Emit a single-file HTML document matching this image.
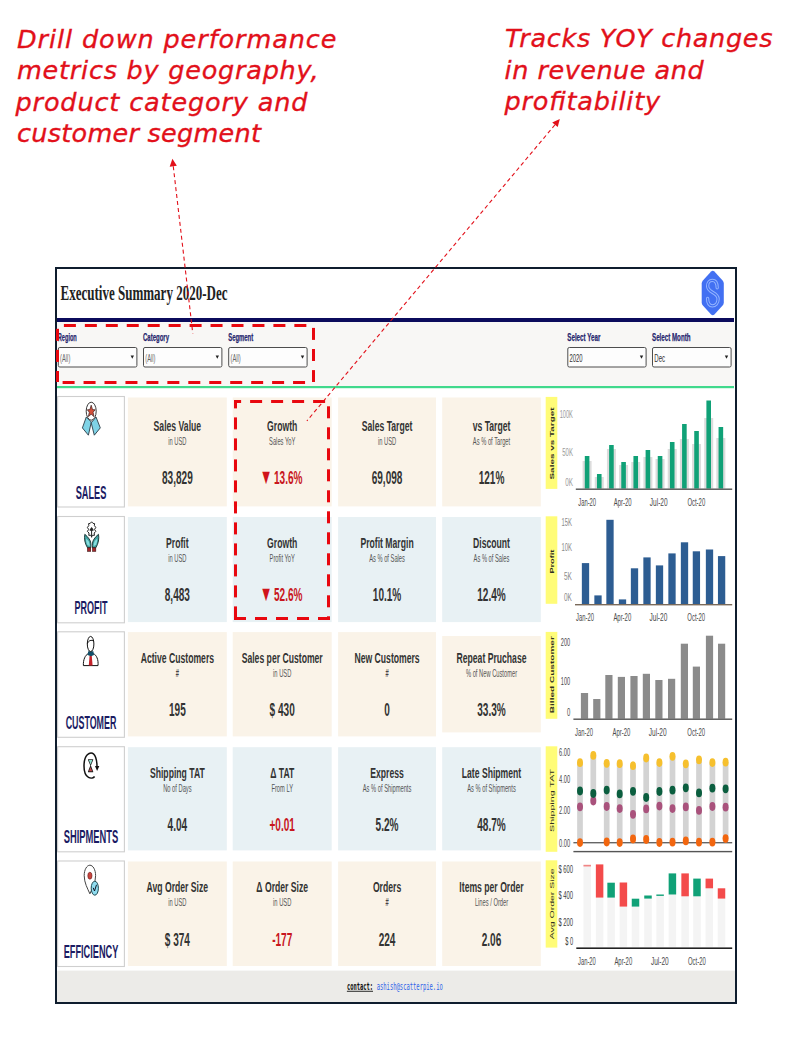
<!DOCTYPE html>
<html lang="en"><head><meta charset="utf-8"><title>Executive Summary 2020-Dec</title>
<style>html,body{margin:0;padding:0;background:#fff;width:794px;height:1055px;overflow:hidden}svg{display:block}</style>
</head><body>
<svg width="794" height="1055" viewBox="0 0 794 1055">
<rect x="0.00" y="0.00" width="794.00" height="1055.00" fill="#ffffff" />
<text x="17.00" y="47.50" text-anchor="start" textLength="319.50" lengthAdjust="spacing" font-family="'DejaVu Sans', 'Liberation Sans', sans-serif" font-size="25.5" font-weight="normal" fill="#e2101a" font-style="oblique" stroke="#e2101a" stroke-width="0.35">Drill down performance</text>
<text x="17.00" y="79.00" text-anchor="start" textLength="301.50" lengthAdjust="spacing" font-family="'DejaVu Sans', 'Liberation Sans', sans-serif" font-size="25.5" font-weight="normal" fill="#e2101a" font-style="oblique" stroke="#e2101a" stroke-width="0.35">metrics by geography,</text>
<text x="15.50" y="110.70" text-anchor="start" textLength="292.00" lengthAdjust="spacing" font-family="'DejaVu Sans', 'Liberation Sans', sans-serif" font-size="25.5" font-weight="normal" fill="#e2101a" font-style="oblique" stroke="#e2101a" stroke-width="0.35">product category and</text>
<text x="17.00" y="142.30" text-anchor="start" textLength="244.00" lengthAdjust="spacing" font-family="'DejaVu Sans', 'Liberation Sans', sans-serif" font-size="25.5" font-weight="normal" fill="#e2101a" font-style="oblique" stroke="#e2101a" stroke-width="0.35">customer segment</text>
<text x="505.00" y="47.30" text-anchor="start" textLength="267.50" lengthAdjust="spacing" font-family="'DejaVu Sans', 'Liberation Sans', sans-serif" font-size="25.5" font-weight="normal" fill="#e2101a" font-style="oblique" stroke="#e2101a" stroke-width="0.35">Tracks YOY changes</text>
<text x="504.60" y="78.80" text-anchor="start" textLength="199.00" lengthAdjust="spacing" font-family="'DejaVu Sans', 'Liberation Sans', sans-serif" font-size="25.5" font-weight="normal" fill="#e2101a" font-style="oblique" stroke="#e2101a" stroke-width="0.35">in revenue and</text>
<text x="504.60" y="110.30" text-anchor="start" textLength="155.50" lengthAdjust="spacing" font-family="'DejaVu Sans', 'Liberation Sans', sans-serif" font-size="25.5" font-weight="normal" fill="#e2101a" font-style="oblique" stroke="#e2101a" stroke-width="0.35">profitability</text>
<rect x="57.00" y="269.00" width="678.00" height="733.00" fill="#ffffff" />
<text transform="translate(60.50,300.20) scale(0.592,1)" text-anchor="start" font-family="'Liberation Serif', 'Times New Roman', serif" font-size="22" font-weight="bold" fill="#222" >Executive Summary 2020-Dec</text>
<path d="M712.75,270.8 Q713.6,270.8 714.4,271.6 L722.6,280.4 Q723.8,281.8 723.8,283.6 L723.8,302.4 Q723.8,304.2 722.6,305.6 L714.4,314.4 Q713.6,315.2 712.75,315.2 Q711.9,315.2 711.1,314.4 L702.9,305.6 Q701.7,304.2 701.7,302.4 L701.7,283.6 Q701.7,281.8 702.9,280.4 L711.1,271.6 Q711.9,270.8 712.75,270.8 Z" fill="#4270f2"/>
<path d="M717.2,287.8 C717.2,282.5 714.8,280.3 712.3,280.3 C709.5,280.3 707.6,282.8 707.6,286.0 C707.6,289.5 710.5,291.2 712.8,292.5 C715.5,294.0 718.1,295.5 718.1,299.0 C718.1,303.5 715.2,305.8 712.4,305.8 C709.3,305.8 707.6,303.5 707.6,298.5" fill="none" stroke="#93b4ff" stroke-width="3.3" stroke-linecap="round"/>
<path d="M717.2,287.8 C717.2,282.5 714.8,280.3 712.3,280.3 C709.5,280.3 707.6,282.8 707.6,286.0 C707.6,289.5 710.5,291.2 712.8,292.5 C715.5,294.0 718.1,295.5 718.1,299.0 C718.1,303.5 715.2,305.8 712.4,305.8 C709.3,305.8 707.6,303.5 707.6,298.5" fill="none" stroke="#4270f2" stroke-width="1.3" stroke-linecap="round"/>
<rect x="57.00" y="318.00" width="677.00" height="4.00" fill="#0b0b5c" />
<rect x="57.00" y="322.00" width="678.00" height="64.00" fill="#f8f7f5" />
<rect x="57.00" y="386.00" width="677.00" height="2.20" fill="#41d98c" />
<text x="57.80" y="340.90" text-anchor="start" textLength="19.00" lengthAdjust="spacingAndGlyphs" font-family="'Liberation Sans', Arial, sans-serif" font-size="10.8" font-weight="bold" fill="#26266e" stroke="#26266e" stroke-width="0.25">Region</text>
<rect x="58.30" y="347.5" width="78.60" height="19.5" rx="1.5" fill="#fdfdfd" stroke="#4d4d4d" stroke-width="1"/>
<text x="60.10" y="361.60" text-anchor="start" textLength="10.20" lengthAdjust="spacingAndGlyphs" font-family="'Liberation Sans', Arial, sans-serif" font-size="10" font-weight="normal" fill="#666" >(All)</text>
<path d="M130.60,355.6 L134.00,355.6 L132.30,358.8 Z" fill="#222"/>
<text x="143.00" y="340.90" text-anchor="start" textLength="26.00" lengthAdjust="spacingAndGlyphs" font-family="'Liberation Sans', Arial, sans-serif" font-size="10.8" font-weight="bold" fill="#26266e" stroke="#26266e" stroke-width="0.25">Category</text>
<rect x="143.50" y="347.5" width="78.40" height="19.5" rx="1.5" fill="#fdfdfd" stroke="#4d4d4d" stroke-width="1"/>
<text x="145.30" y="361.60" text-anchor="start" textLength="10.20" lengthAdjust="spacingAndGlyphs" font-family="'Liberation Sans', Arial, sans-serif" font-size="10" font-weight="normal" fill="#666" >(All)</text>
<path d="M215.60,355.6 L219.00,355.6 L217.30,358.8 Z" fill="#222"/>
<text x="228.20" y="340.90" text-anchor="start" textLength="25.00" lengthAdjust="spacingAndGlyphs" font-family="'Liberation Sans', Arial, sans-serif" font-size="10.8" font-weight="bold" fill="#26266e" stroke="#26266e" stroke-width="0.25">Segment</text>
<rect x="228.70" y="347.5" width="78.40" height="19.5" rx="1.5" fill="#fdfdfd" stroke="#4d4d4d" stroke-width="1"/>
<text x="230.50" y="361.60" text-anchor="start" textLength="10.20" lengthAdjust="spacingAndGlyphs" font-family="'Liberation Sans', Arial, sans-serif" font-size="10" font-weight="normal" fill="#666" >(All)</text>
<path d="M300.80,355.6 L304.20,355.6 L302.50,358.8 Z" fill="#222"/>
<text x="567.30" y="340.90" text-anchor="start" textLength="33.00" lengthAdjust="spacingAndGlyphs" font-family="'Liberation Sans', Arial, sans-serif" font-size="10.8" font-weight="bold" fill="#26266e" stroke="#26266e" stroke-width="0.25">Select Year</text>
<rect x="567.80" y="347.5" width="78.30" height="19.5" rx="1.5" fill="#fdfdfd" stroke="#4d4d4d" stroke-width="1"/>
<text x="569.60" y="361.60" text-anchor="start" textLength="13.00" lengthAdjust="spacingAndGlyphs" font-family="'Liberation Sans', Arial, sans-serif" font-size="10" font-weight="normal" fill="#333" >2020</text>
<path d="M639.80,355.6 L643.20,355.6 L641.50,358.8 Z" fill="#222"/>
<text x="652.00" y="340.90" text-anchor="start" textLength="38.50" lengthAdjust="spacingAndGlyphs" font-family="'Liberation Sans', Arial, sans-serif" font-size="10.8" font-weight="bold" fill="#26266e" stroke="#26266e" stroke-width="0.25">Select Month</text>
<rect x="652.50" y="347.5" width="78.60" height="19.5" rx="1.5" fill="#fdfdfd" stroke="#4d4d4d" stroke-width="1"/>
<text x="654.30" y="361.60" text-anchor="start" textLength="10.80" lengthAdjust="spacingAndGlyphs" font-family="'Liberation Sans', Arial, sans-serif" font-size="10" font-weight="normal" fill="#333" >Dec</text>
<path d="M724.80,355.6 L728.20,355.6 L726.50,358.8 Z" fill="#222"/>
<rect x="57.6" y="396.50" width="66.8" height="110.50" fill="#ffffff" stroke="#cfcfcf" stroke-width="1.1"/>
<text x="75.65" y="498.80" text-anchor="start" textLength="30.70" lengthAdjust="spacingAndGlyphs" font-family="'Liberation Sans', Arial, sans-serif" font-size="17.5" font-weight="bold" fill="#1b1b63" >SALES</text>
<rect x="127.90" y="397.50" width="98.90" height="108.90" fill="#faf3e8" />
<text transform="translate(177.35,430.65) scale(0.565,1)" text-anchor="middle" font-family="'Liberation Sans', Arial, sans-serif" font-size="15.3" font-weight="bold" fill="#333333" >Sales Value</text>
<text transform="translate(177.35,444.65) scale(0.565,1)" text-anchor="middle" font-family="'Liberation Sans', Arial, sans-serif" font-size="10.2" font-weight="normal" fill="#555555" >in USD</text>
<text transform="translate(177.35,483.75) scale(0.541,1)" text-anchor="middle" font-family="'Liberation Sans', Arial, sans-serif" font-size="18.6" font-weight="bold" fill="#333333" >83,829</text>
<rect x="232.70" y="397.50" width="99.00" height="108.90" fill="#faf3e8" />
<text transform="translate(282.20,430.65) scale(0.565,1)" text-anchor="middle" font-family="'Liberation Sans', Arial, sans-serif" font-size="15.3" font-weight="bold" fill="#333333" >Growth</text>
<text transform="translate(282.20,444.65) scale(0.565,1)" text-anchor="middle" font-family="'Liberation Sans', Arial, sans-serif" font-size="10.2" font-weight="normal" fill="#555555" >Sales YoY</text>
<text transform="translate(272.30,483.75) scale(0.6,1)" text-anchor="end" font-family="'Liberation Sans', Arial, sans-serif" font-size="21.3" font-weight="normal" fill="#d0141a" >▼</text>
<text transform="translate(274.00,483.75) scale(0.541,1)" text-anchor="start" font-family="'Liberation Sans', Arial, sans-serif" font-size="18.6" font-weight="bold" fill="#c8161d" >13.6%</text>
<rect x="338.10" y="397.50" width="97.90" height="108.90" fill="#faf3e8" />
<text transform="translate(387.05,430.65) scale(0.565,1)" text-anchor="middle" font-family="'Liberation Sans', Arial, sans-serif" font-size="15.3" font-weight="bold" fill="#333333" >Sales Target</text>
<text transform="translate(387.05,444.65) scale(0.565,1)" text-anchor="middle" font-family="'Liberation Sans', Arial, sans-serif" font-size="10.2" font-weight="normal" fill="#555555" >in USD</text>
<text transform="translate(387.05,483.75) scale(0.541,1)" text-anchor="middle" font-family="'Liberation Sans', Arial, sans-serif" font-size="18.6" font-weight="bold" fill="#333333" >69,098</text>
<rect x="442.20" y="397.50" width="98.60" height="108.90" fill="#faf3e8" />
<text transform="translate(491.50,430.65) scale(0.565,1)" text-anchor="middle" font-family="'Liberation Sans', Arial, sans-serif" font-size="15.3" font-weight="bold" fill="#333333" >vs Target</text>
<text transform="translate(491.50,444.65) scale(0.565,1)" text-anchor="middle" font-family="'Liberation Sans', Arial, sans-serif" font-size="10.2" font-weight="normal" fill="#555555" >As % of Target</text>
<text transform="translate(491.50,483.75) scale(0.541,1)" text-anchor="middle" font-family="'Liberation Sans', Arial, sans-serif" font-size="18.6" font-weight="bold" fill="#333333" >121%</text>
<rect x="57.6" y="516.50" width="66.8" height="106.30" fill="#ffffff" stroke="#cfcfcf" stroke-width="1.1"/>
<text x="74.50" y="614.20" text-anchor="start" textLength="33.00" lengthAdjust="spacingAndGlyphs" font-family="'Liberation Sans', Arial, sans-serif" font-size="17.5" font-weight="bold" fill="#1b1b63" >PROFIT</text>
<rect x="127.90" y="517.00" width="98.90" height="105.10" fill="#e8f1f4" />
<text transform="translate(177.35,548.25) scale(0.565,1)" text-anchor="middle" font-family="'Liberation Sans', Arial, sans-serif" font-size="15.3" font-weight="bold" fill="#333333" >Profit</text>
<text transform="translate(177.35,562.25) scale(0.565,1)" text-anchor="middle" font-family="'Liberation Sans', Arial, sans-serif" font-size="10.2" font-weight="normal" fill="#555555" >in USD</text>
<text transform="translate(177.35,601.35) scale(0.541,1)" text-anchor="middle" font-family="'Liberation Sans', Arial, sans-serif" font-size="18.6" font-weight="bold" fill="#333333" >8,483</text>
<rect x="232.70" y="517.00" width="99.00" height="105.10" fill="#e8f1f4" />
<text transform="translate(282.20,548.25) scale(0.565,1)" text-anchor="middle" font-family="'Liberation Sans', Arial, sans-serif" font-size="15.3" font-weight="bold" fill="#333333" >Growth</text>
<text transform="translate(282.20,562.25) scale(0.565,1)" text-anchor="middle" font-family="'Liberation Sans', Arial, sans-serif" font-size="10.2" font-weight="normal" fill="#555555" >Profit YoY</text>
<text transform="translate(272.30,601.35) scale(0.6,1)" text-anchor="end" font-family="'Liberation Sans', Arial, sans-serif" font-size="21.3" font-weight="normal" fill="#d0141a" >▼</text>
<text transform="translate(274.00,601.35) scale(0.541,1)" text-anchor="start" font-family="'Liberation Sans', Arial, sans-serif" font-size="18.6" font-weight="bold" fill="#c8161d" >52.6%</text>
<rect x="338.10" y="517.00" width="97.90" height="105.10" fill="#e8f1f4" />
<text transform="translate(387.05,548.25) scale(0.565,1)" text-anchor="middle" font-family="'Liberation Sans', Arial, sans-serif" font-size="15.3" font-weight="bold" fill="#333333" >Profit Margin</text>
<text transform="translate(387.05,562.25) scale(0.565,1)" text-anchor="middle" font-family="'Liberation Sans', Arial, sans-serif" font-size="10.2" font-weight="normal" fill="#555555" >As % of Sales</text>
<text transform="translate(387.05,601.35) scale(0.541,1)" text-anchor="middle" font-family="'Liberation Sans', Arial, sans-serif" font-size="18.6" font-weight="bold" fill="#333333" >10.1%</text>
<rect x="442.20" y="517.00" width="98.60" height="105.10" fill="#e8f1f4" />
<text transform="translate(491.50,548.25) scale(0.565,1)" text-anchor="middle" font-family="'Liberation Sans', Arial, sans-serif" font-size="15.3" font-weight="bold" fill="#333333" >Discount</text>
<text transform="translate(491.50,562.25) scale(0.565,1)" text-anchor="middle" font-family="'Liberation Sans', Arial, sans-serif" font-size="10.2" font-weight="normal" fill="#555555" >As % of Sales</text>
<text transform="translate(491.50,601.35) scale(0.541,1)" text-anchor="middle" font-family="'Liberation Sans', Arial, sans-serif" font-size="18.6" font-weight="bold" fill="#333333" >12.4%</text>
<rect x="57.6" y="631.80" width="66.8" height="105.50" fill="#ffffff" stroke="#cfcfcf" stroke-width="1.1"/>
<text x="65.65" y="728.70" text-anchor="start" textLength="50.70" lengthAdjust="spacingAndGlyphs" font-family="'Liberation Sans', Arial, sans-serif" font-size="17.5" font-weight="bold" fill="#1b1b63" >CUSTOMER</text>
<rect x="127.90" y="632.10" width="98.90" height="104.30" fill="#faf3e8" />
<text transform="translate(177.35,662.95) scale(0.565,1)" text-anchor="middle" font-family="'Liberation Sans', Arial, sans-serif" font-size="15.3" font-weight="bold" fill="#333333" >Active Customers</text>
<text transform="translate(177.35,676.95) scale(0.565,1)" text-anchor="middle" font-family="'Liberation Sans', Arial, sans-serif" font-size="10.2" font-weight="bold" fill="#444444" >#</text>
<text transform="translate(177.35,716.05) scale(0.541,1)" text-anchor="middle" font-family="'Liberation Sans', Arial, sans-serif" font-size="18.6" font-weight="bold" fill="#333333" >195</text>
<rect x="232.70" y="632.10" width="99.00" height="104.30" fill="#faf3e8" />
<text transform="translate(282.20,662.95) scale(0.565,1)" text-anchor="middle" font-family="'Liberation Sans', Arial, sans-serif" font-size="15.3" font-weight="bold" fill="#333333" >Sales per Customer</text>
<text transform="translate(282.20,676.95) scale(0.565,1)" text-anchor="middle" font-family="'Liberation Sans', Arial, sans-serif" font-size="10.2" font-weight="normal" fill="#555555" >in USD</text>
<text transform="translate(282.20,716.05) scale(0.541,1)" text-anchor="middle" font-family="'Liberation Sans', Arial, sans-serif" font-size="18.6" font-weight="bold" fill="#333333" >$ 430</text>
<rect x="338.10" y="632.10" width="97.90" height="104.30" fill="#faf3e8" />
<text transform="translate(387.05,662.95) scale(0.565,1)" text-anchor="middle" font-family="'Liberation Sans', Arial, sans-serif" font-size="15.3" font-weight="bold" fill="#333333" >New Customers</text>
<text transform="translate(387.05,676.95) scale(0.565,1)" text-anchor="middle" font-family="'Liberation Sans', Arial, sans-serif" font-size="10.2" font-weight="bold" fill="#444444" >#</text>
<text transform="translate(387.05,716.05) scale(0.541,1)" text-anchor="middle" font-family="'Liberation Sans', Arial, sans-serif" font-size="18.6" font-weight="bold" fill="#333333" >0</text>
<rect x="442.20" y="636.00" width="98.60" height="96.40" fill="#faf3e8" />
<text transform="translate(491.50,662.95) scale(0.565,1)" text-anchor="middle" font-family="'Liberation Sans', Arial, sans-serif" font-size="15.3" font-weight="bold" fill="#333333" >Repeat Pruchase</text>
<text transform="translate(491.50,676.95) scale(0.565,1)" text-anchor="middle" font-family="'Liberation Sans', Arial, sans-serif" font-size="10.2" font-weight="normal" fill="#555555" >% of New Customer</text>
<text transform="translate(491.50,716.05) scale(0.541,1)" text-anchor="middle" font-family="'Liberation Sans', Arial, sans-serif" font-size="18.6" font-weight="bold" fill="#333333" >33.3%</text>
<rect x="57.6" y="746.70" width="66.8" height="105.10" fill="#ffffff" stroke="#cfcfcf" stroke-width="1.1"/>
<text x="63.75" y="843.20" text-anchor="start" textLength="54.50" lengthAdjust="spacingAndGlyphs" font-family="'Liberation Sans', Arial, sans-serif" font-size="17.5" font-weight="bold" fill="#1b1b63" >SHIPMENTS</text>
<rect x="127.90" y="747.20" width="98.90" height="103.20" fill="#e8f1f4" />
<text transform="translate(177.35,777.50) scale(0.565,1)" text-anchor="middle" font-family="'Liberation Sans', Arial, sans-serif" font-size="15.3" font-weight="bold" fill="#333333" >Shipping TAT</text>
<text transform="translate(177.35,791.50) scale(0.565,1)" text-anchor="middle" font-family="'Liberation Sans', Arial, sans-serif" font-size="10.2" font-weight="normal" fill="#555555" >No of Days</text>
<text transform="translate(177.35,830.60) scale(0.541,1)" text-anchor="middle" font-family="'Liberation Sans', Arial, sans-serif" font-size="18.6" font-weight="bold" fill="#333333" >4.04</text>
<rect x="232.70" y="747.20" width="99.00" height="103.20" fill="#e8f1f4" />
<text transform="translate(282.20,777.50) scale(0.565,1)" text-anchor="middle" font-family="'Liberation Sans', Arial, sans-serif" font-size="15.3" font-weight="bold" fill="#333333" >Δ TAT</text>
<text transform="translate(282.20,791.50) scale(0.565,1)" text-anchor="middle" font-family="'Liberation Sans', Arial, sans-serif" font-size="10.2" font-weight="normal" fill="#555555" >From LY</text>
<text transform="translate(282.20,830.60) scale(0.541,1)" text-anchor="middle" font-family="'Liberation Sans', Arial, sans-serif" font-size="18.6" font-weight="bold" fill="#c8161d" >+0.01</text>
<rect x="338.10" y="747.20" width="97.90" height="103.20" fill="#e8f1f4" />
<text transform="translate(387.05,777.50) scale(0.565,1)" text-anchor="middle" font-family="'Liberation Sans', Arial, sans-serif" font-size="15.3" font-weight="bold" fill="#333333" >Express</text>
<text transform="translate(387.05,791.50) scale(0.565,1)" text-anchor="middle" font-family="'Liberation Sans', Arial, sans-serif" font-size="10.2" font-weight="normal" fill="#555555" >As % of Shipments</text>
<text transform="translate(387.05,830.60) scale(0.541,1)" text-anchor="middle" font-family="'Liberation Sans', Arial, sans-serif" font-size="18.6" font-weight="bold" fill="#333333" >5.2%</text>
<rect x="442.20" y="747.20" width="98.60" height="103.20" fill="#e8f1f4" />
<text transform="translate(491.50,777.50) scale(0.565,1)" text-anchor="middle" font-family="'Liberation Sans', Arial, sans-serif" font-size="15.3" font-weight="bold" fill="#333333" >Late Shipment</text>
<text transform="translate(491.50,791.50) scale(0.565,1)" text-anchor="middle" font-family="'Liberation Sans', Arial, sans-serif" font-size="10.2" font-weight="normal" fill="#555555" >As % of Shipments</text>
<text transform="translate(491.50,830.60) scale(0.541,1)" text-anchor="middle" font-family="'Liberation Sans', Arial, sans-serif" font-size="18.6" font-weight="bold" fill="#333333" >48.7%</text>
<rect x="57.6" y="861.00" width="66.8" height="105.50" fill="#ffffff" stroke="#cfcfcf" stroke-width="1.1"/>
<text x="63.70" y="957.80" text-anchor="start" textLength="54.60" lengthAdjust="spacingAndGlyphs" font-family="'Liberation Sans', Arial, sans-serif" font-size="17.5" font-weight="bold" fill="#1b1b63" >EFFICIENCY</text>
<rect x="127.90" y="861.50" width="98.90" height="104.50" fill="#faf3e8" />
<text transform="translate(177.35,892.45) scale(0.565,1)" text-anchor="middle" font-family="'Liberation Sans', Arial, sans-serif" font-size="15.3" font-weight="bold" fill="#333333" >Avg Order Size</text>
<text transform="translate(177.35,906.45) scale(0.565,1)" text-anchor="middle" font-family="'Liberation Sans', Arial, sans-serif" font-size="10.2" font-weight="normal" fill="#555555" >in USD</text>
<text transform="translate(177.35,945.55) scale(0.541,1)" text-anchor="middle" font-family="'Liberation Sans', Arial, sans-serif" font-size="18.6" font-weight="bold" fill="#333333" >$ 374</text>
<rect x="232.70" y="861.50" width="99.00" height="104.50" fill="#faf3e8" />
<text transform="translate(282.20,892.45) scale(0.565,1)" text-anchor="middle" font-family="'Liberation Sans', Arial, sans-serif" font-size="15.3" font-weight="bold" fill="#333333" >Δ Order Size</text>
<text transform="translate(282.20,906.45) scale(0.565,1)" text-anchor="middle" font-family="'Liberation Sans', Arial, sans-serif" font-size="10.2" font-weight="normal" fill="#555555" >in USD</text>
<text transform="translate(282.20,945.55) scale(0.541,1)" text-anchor="middle" font-family="'Liberation Sans', Arial, sans-serif" font-size="18.6" font-weight="bold" fill="#c8161d" >-177</text>
<rect x="338.10" y="861.50" width="97.90" height="104.50" fill="#faf3e8" />
<text transform="translate(387.05,892.45) scale(0.565,1)" text-anchor="middle" font-family="'Liberation Sans', Arial, sans-serif" font-size="15.3" font-weight="bold" fill="#333333" >Orders</text>
<text transform="translate(387.05,906.45) scale(0.565,1)" text-anchor="middle" font-family="'Liberation Sans', Arial, sans-serif" font-size="10.2" font-weight="bold" fill="#444444" >#</text>
<text transform="translate(387.05,945.55) scale(0.541,1)" text-anchor="middle" font-family="'Liberation Sans', Arial, sans-serif" font-size="18.6" font-weight="bold" fill="#333333" >224</text>
<rect x="442.20" y="861.50" width="98.60" height="104.50" fill="#faf3e8" />
<text transform="translate(491.50,892.45) scale(0.565,1)" text-anchor="middle" font-family="'Liberation Sans', Arial, sans-serif" font-size="15.3" font-weight="bold" fill="#333333" >Items per Order</text>
<text transform="translate(491.50,906.45) scale(0.565,1)" text-anchor="middle" font-family="'Liberation Sans', Arial, sans-serif" font-size="10.2" font-weight="normal" fill="#555555" >Lines / Order</text>
<text transform="translate(491.50,945.55) scale(0.541,1)" text-anchor="middle" font-family="'Liberation Sans', Arial, sans-serif" font-size="18.6" font-weight="bold" fill="#333333" >2.06</text>
<g stroke="#2b3a44" stroke-width="0.9" stroke-linejoin="round">
<polygon points="86.3,417.0 91.3,422.0 88.4,435.2 82.4,427.9" fill="#7fd3e6"/>
<polygon points="96.0,417.0 91.2,422.8 94.3,435.2 100.3,427.9" fill="#7fd3e6"/>
<ellipse cx="91.2" cy="411.2" rx="5.0" ry="9.0" fill="#ffffff" stroke="#3a3a3a" stroke-width="1.0"/>
<polygon points="91.2,405.2 92.5,409.6 95.1,409.8 93.1,412.2 94.0,416.6 91.2,414.2 88.4,416.6 89.3,412.2 87.3,409.8 89.9,409.6" fill="#d5503a" stroke="#3a2020" stroke-width="0.7"/>
</g>
<g stroke="#222" stroke-width="1.0" fill="none" stroke-linejoin="round">
<path d="M91.6,521.8 L93.0,523.4 L94.6,523.6 L94.4,525.6 L95.8,527.4 L94.6,529.4 L95.8,531.4 L94.2,533.0 L94.4,535.4 L92.6,535.2 L91.6,536.8 L90.6,535.2 L88.8,535.4 L89.0,533.0 L87.4,531.4 L88.6,529.4 L87.4,527.4 L88.8,525.6 L88.6,523.6 L90.2,523.4 Z" fill="#fff"/>
<path d="M91.6,528.5 L91.6,537.5" />
<path d="M89.9,530.2 L91.6,527.6 L93.3,530.2 Z" fill="#222"/>
</g>
<path d="M84.80,534.30 C84.00,538.50 84.80,543.50 87.50,547.80 L90.80,547.80 C91.20,544.50 91.00,541.50 89.20,539.00 C88.00,537.40 86.60,535.50 84.80,534.30 Z" fill="#3f9f9f" stroke="#17302f" stroke-width="0.9"/>
<path d="M86.00,538.50 Q85.90,541.50 87.20,544.80 L89.60,546.20 Q89.80,543.50 88.60,541.00 Z" fill="#86dede"/>
<path d="M98.50,534.30 C99.30,538.50 98.50,543.50 95.80,547.80 L92.50,547.80 C92.10,544.50 92.30,541.50 94.10,539.00 C95.30,537.40 96.70,535.50 98.50,534.30 Z" fill="#3f9f9f" stroke="#17302f" stroke-width="0.9"/>
<path d="M97.30,538.50 Q97.40,541.50 96.10,544.80 L93.70,546.20 Q93.50,543.50 94.70,541.00 Z" fill="#86dede"/>
<rect x="87.5" y="547.8" width="3.2" height="3.5" fill="#a3262a" stroke="#3a1010" stroke-width="0.6"/>
<rect x="92.6" y="547.8" width="3.2" height="3.5" fill="#a3262a" stroke="#3a1010" stroke-width="0.6"/>
<g stroke="#111" stroke-width="1.0" stroke-linejoin="round">
<path d="M83.4,665.6 C83.0,659.5 85.5,655.0 88.0,653.8 L93.6,653.8 C96.4,655.0 98.6,659.5 98.0,665.6 Z" fill="#fff"/>
<path d="M89.6,655.2 L91.7,655.2 L92.6,665.4 L88.8,665.4 Z" fill="#c4222a" stroke="none"/>
<path d="M88.2,651.2 L93.4,651.2 L94.0,655.0 L91.0,656.2 L87.6,655.0 Z" fill="#13506a" stroke="none"/>
<ellipse cx="90.6" cy="644.0" rx="3.3" ry="7.6" fill="#fff"/>
<path d="M87.4,643.6 C88.4,640.6 91.4,639.4 93.8,641.2" fill="none"/>
</g>
<path d="M94.6,776.5 C92.5,779.5 84.0,779.5 84.0,766.0 C84.0,753.5 90.5,753.0 91.0,753.0 C95.5,753.0 97.0,760.5 97.0,766.5" fill="none" stroke="#111" stroke-width="1.5"/>
<path d="M95.0,766.0 L99.3,766.0 L97.1,771.0 Z" fill="#111"/>
<path d="M88.0,759.2 L93.2,759.2 L93.2,760.0 L90.9,765.6 L93.2,771.4 L93.2,772.2 L88.0,772.2 L88.0,771.4 L90.3,765.6 L88.0,760.0 Z" fill="#222"/>
<path d="M88.9,760.1 L92.3,760.1 L90.6,764.5 Z" fill="#8fe0cf"/>
<path d="M90.6,767.2 L92.3,771.3 L88.9,771.3 Z" fill="#c0474b"/>
<path d="M89.9,893.8 C87.6,888.5 84.2,883.0 84.2,875.5 C84.2,869.8 86.8,865.2 89.9,865.2 C93.0,865.2 95.6,869.8 95.6,875.5 C95.6,883.0 92.2,888.5 89.9,893.8 Z" fill="#fff" stroke="#444" stroke-width="1.0"/>
<ellipse cx="89.9" cy="875.7" rx="2.1" ry="3.5" fill="#c9453e" stroke="#6a1a1a" stroke-width="0.6"/>
<ellipse cx="94.8" cy="888.2" rx="3.6" ry="7.0" fill="#8fdcef" stroke="#1f4a52" stroke-width="1.0"/>
<path d="M93.2,887.8 L94.5,891.0 L96.5,884.8" fill="none" stroke="#112" stroke-width="1.0"/>
<rect x="545.70" y="396.90" width="11.60" height="92.00" fill="#fffc78" />
<text transform="translate(554.4,443.50) rotate(-90) scale(1,0.5)" text-anchor="middle" textLength="72" lengthAdjust="spacingAndGlyphs" font-family="'Liberation Sans', Arial, sans-serif" font-size="11" font-weight="bold" fill="#2e2e22">Sales vs Target</text>
<rect x="545.70" y="516.30" width="11.60" height="87.50" fill="#fffc78" />
<text transform="translate(554.4,561.60) rotate(-90) scale(1,0.5)" text-anchor="middle" textLength="24" lengthAdjust="spacingAndGlyphs" font-family="'Liberation Sans', Arial, sans-serif" font-size="11" font-weight="bold" fill="#2e2e22">Profit</text>
<rect x="545.70" y="631.90" width="11.60" height="86.90" fill="#fffc78" />
<text transform="translate(554.4,674.70) rotate(-90) scale(1,0.5)" text-anchor="middle" textLength="77" lengthAdjust="spacingAndGlyphs" font-family="'Liberation Sans', Arial, sans-serif" font-size="11" font-weight="600" fill="#2e2e22">Billed Customer</text>
<rect x="545.70" y="746.30" width="11.60" height="105.50" fill="#fffc78" />
<text transform="translate(554.4,800.50) rotate(-90) scale(1,0.5)" text-anchor="middle" textLength="63" lengthAdjust="spacingAndGlyphs" font-family="'Liberation Sans', Arial, sans-serif" font-size="11" font-weight="normal" fill="#2e2e22">Shipping TAT</text>
<rect x="545.70" y="860.30" width="11.60" height="87.30" fill="#fffc78" />
<text transform="translate(554.4,903.80) rotate(-90) scale(1,0.5)" text-anchor="middle" textLength="71" lengthAdjust="spacingAndGlyphs" font-family="'Liberation Sans', Arial, sans-serif" font-size="11" font-weight="normal" fill="#2e2e22">Avg Order Size</text>
<rect x="582.60" y="461.00" width="9.00" height="27.60" fill="#dcdcdc" />
<rect x="584.80" y="456.00" width="4.60" height="32.60" fill="#10a177" />
<rect x="594.76" y="477.00" width="9.00" height="11.60" fill="#dcdcdc" />
<rect x="596.96" y="474.00" width="4.60" height="14.60" fill="#10a177" />
<rect x="606.92" y="449.00" width="9.00" height="39.60" fill="#dcdcdc" />
<rect x="609.12" y="445.00" width="4.60" height="43.60" fill="#10a177" />
<rect x="619.08" y="465.00" width="9.00" height="23.60" fill="#dcdcdc" />
<rect x="621.28" y="462.00" width="4.60" height="26.60" fill="#10a177" />
<rect x="631.24" y="462.00" width="9.00" height="26.60" fill="#dcdcdc" />
<rect x="633.44" y="456.00" width="4.60" height="32.60" fill="#10a177" />
<rect x="643.40" y="457.00" width="9.00" height="31.60" fill="#dcdcdc" />
<rect x="645.60" y="450.00" width="4.60" height="38.60" fill="#10a177" />
<rect x="655.56" y="459.00" width="9.00" height="29.60" fill="#dcdcdc" />
<rect x="657.76" y="456.00" width="4.60" height="32.60" fill="#10a177" />
<rect x="667.72" y="449.00" width="9.00" height="39.60" fill="#dcdcdc" />
<rect x="669.92" y="442.00" width="4.60" height="46.60" fill="#10a177" />
<rect x="679.88" y="439.00" width="9.00" height="49.60" fill="#dcdcdc" />
<rect x="682.08" y="424.00" width="4.60" height="64.60" fill="#10a177" />
<rect x="692.04" y="444.00" width="9.00" height="44.60" fill="#dcdcdc" />
<rect x="694.24" y="431.00" width="4.60" height="57.60" fill="#10a177" />
<rect x="704.20" y="418.00" width="9.00" height="70.60" fill="#dcdcdc" />
<rect x="706.40" y="400.50" width="4.60" height="88.10" fill="#10a177" />
<rect x="716.36" y="438.00" width="9.00" height="50.60" fill="#dcdcdc" />
<rect x="718.56" y="427.00" width="4.60" height="61.60" fill="#10a177" />
<rect x="575.80" y="488.50" width="156.40" height="1.40" fill="#555555" />
<text x="559.70" y="418.30" text-anchor="start" textLength="13.20" lengthAdjust="spacingAndGlyphs" font-family="'Liberation Sans', Arial, sans-serif" font-size="10.5" font-weight="normal" fill="#999999" >100K</text>
<text x="562.20" y="455.80" text-anchor="start" textLength="10.70" lengthAdjust="spacingAndGlyphs" font-family="'Liberation Sans', Arial, sans-serif" font-size="10.5" font-weight="normal" fill="#999999" >50K</text>
<text x="565.20" y="485.50" text-anchor="start" textLength="7.70" lengthAdjust="spacingAndGlyphs" font-family="'Liberation Sans', Arial, sans-serif" font-size="10.5" font-weight="normal" fill="#999999" >0K</text>
<text x="578.30" y="505.80" text-anchor="start" textLength="17.80" lengthAdjust="spacingAndGlyphs" font-family="'Liberation Sans', Arial, sans-serif" font-size="10.0" font-weight="normal" fill="#4a4a4a" >Jan-20</text>
<text x="613.80" y="505.80" text-anchor="start" textLength="17.80" lengthAdjust="spacingAndGlyphs" font-family="'Liberation Sans', Arial, sans-serif" font-size="10.0" font-weight="normal" fill="#4a4a4a" >Apr-20</text>
<text x="649.80" y="505.80" text-anchor="start" textLength="17.80" lengthAdjust="spacingAndGlyphs" font-family="'Liberation Sans', Arial, sans-serif" font-size="10.0" font-weight="normal" fill="#4a4a4a" >Jul-20</text>
<text x="687.40" y="505.80" text-anchor="start" textLength="17.80" lengthAdjust="spacingAndGlyphs" font-family="'Liberation Sans', Arial, sans-serif" font-size="10.0" font-weight="normal" fill="#4a4a4a" >Oct-20</text>
<rect x="581.85" y="563.10" width="7.30" height="41.10" fill="#2d5d92" />
<rect x="594.35" y="595.40" width="7.30" height="8.80" fill="#2d5d92" />
<rect x="606.35" y="519.80" width="7.30" height="84.40" fill="#2d5d92" />
<rect x="618.85" y="599.40" width="7.30" height="4.80" fill="#2d5d92" />
<rect x="630.85" y="568.30" width="7.30" height="35.90" fill="#2d5d92" />
<rect x="643.35" y="557.40" width="7.30" height="46.80" fill="#2d5d92" />
<rect x="655.85" y="565.40" width="7.30" height="38.80" fill="#2d5d92" />
<rect x="668.35" y="553.40" width="7.30" height="50.80" fill="#2d5d92" />
<rect x="680.85" y="542.30" width="7.30" height="61.90" fill="#2d5d92" />
<rect x="692.75" y="551.30" width="7.30" height="52.90" fill="#2d5d92" />
<rect x="705.85" y="549.50" width="7.30" height="54.70" fill="#2d5d92" />
<rect x="717.95" y="556.10" width="7.30" height="48.10" fill="#2d5d92" />
<rect x="575.00" y="604.00" width="157.20" height="1.40" fill="#7a6a5a" />
<text x="561.40" y="526.10" text-anchor="start" textLength="10.50" lengthAdjust="spacingAndGlyphs" font-family="'Liberation Sans', Arial, sans-serif" font-size="10.5" font-weight="normal" fill="#8a8a8a" >15K</text>
<text x="561.40" y="551.20" text-anchor="start" textLength="10.50" lengthAdjust="spacingAndGlyphs" font-family="'Liberation Sans', Arial, sans-serif" font-size="10.5" font-weight="normal" fill="#8a8a8a" >10K</text>
<text x="564.00" y="580.40" text-anchor="start" textLength="7.90" lengthAdjust="spacingAndGlyphs" font-family="'Liberation Sans', Arial, sans-serif" font-size="10.5" font-weight="normal" fill="#8a8a8a" >5K</text>
<text x="564.00" y="601.30" text-anchor="start" textLength="7.90" lengthAdjust="spacingAndGlyphs" font-family="'Liberation Sans', Arial, sans-serif" font-size="10.5" font-weight="normal" fill="#8a8a8a" >0K</text>
<text x="576.10" y="620.90" text-anchor="start" textLength="17.80" lengthAdjust="spacingAndGlyphs" font-family="'Liberation Sans', Arial, sans-serif" font-size="10.0" font-weight="normal" fill="#4a4a4a" >Jan-20</text>
<text x="613.40" y="620.90" text-anchor="start" textLength="17.80" lengthAdjust="spacingAndGlyphs" font-family="'Liberation Sans', Arial, sans-serif" font-size="10.0" font-weight="normal" fill="#4a4a4a" >Apr-20</text>
<text x="649.50" y="620.90" text-anchor="start" textLength="17.80" lengthAdjust="spacingAndGlyphs" font-family="'Liberation Sans', Arial, sans-serif" font-size="10.0" font-weight="normal" fill="#4a4a4a" >Jul-20</text>
<text x="687.30" y="620.90" text-anchor="start" textLength="17.80" lengthAdjust="spacingAndGlyphs" font-family="'Liberation Sans', Arial, sans-serif" font-size="10.0" font-weight="normal" fill="#4a4a4a" >Oct-20</text>
<rect x="580.90" y="693.00" width="7.20" height="25.70" fill="#8b8b8b" />
<rect x="593.20" y="699.00" width="7.20" height="19.70" fill="#8b8b8b" />
<rect x="605.30" y="675.00" width="7.20" height="43.70" fill="#8b8b8b" />
<rect x="617.80" y="676.90" width="7.20" height="41.80" fill="#8b8b8b" />
<rect x="630.40" y="676.00" width="7.20" height="42.70" fill="#8b8b8b" />
<rect x="642.80" y="673.80" width="7.20" height="44.90" fill="#8b8b8b" />
<rect x="655.30" y="680.00" width="7.20" height="38.70" fill="#8b8b8b" />
<rect x="668.00" y="678.80" width="7.20" height="39.90" fill="#8b8b8b" />
<rect x="680.80" y="643.70" width="7.20" height="75.00" fill="#8b8b8b" />
<rect x="692.80" y="666.60" width="7.20" height="52.10" fill="#8b8b8b" />
<rect x="705.90" y="635.70" width="7.20" height="83.00" fill="#8b8b8b" />
<rect x="718.00" y="643.70" width="7.20" height="75.00" fill="#8b8b8b" />
<rect x="573.40" y="718.50" width="158.80" height="1.40" fill="#555555" />
<text x="560.80" y="645.60" text-anchor="start" textLength="9.40" lengthAdjust="spacingAndGlyphs" font-family="'Liberation Sans', Arial, sans-serif" font-size="10.5" font-weight="normal" fill="#4a4a4a" >200</text>
<text x="560.80" y="684.80" text-anchor="start" textLength="9.40" lengthAdjust="spacingAndGlyphs" font-family="'Liberation Sans', Arial, sans-serif" font-size="10.5" font-weight="normal" fill="#4a4a4a" >100</text>
<text x="566.90" y="715.50" text-anchor="start" textLength="3.30" lengthAdjust="spacingAndGlyphs" font-family="'Liberation Sans', Arial, sans-serif" font-size="10.5" font-weight="normal" fill="#4a4a4a" >0</text>
<text x="575.10" y="735.60" text-anchor="start" textLength="17.80" lengthAdjust="spacingAndGlyphs" font-family="'Liberation Sans', Arial, sans-serif" font-size="10.0" font-weight="normal" fill="#4a4a4a" >Jan-20</text>
<text x="612.50" y="735.60" text-anchor="start" textLength="17.80" lengthAdjust="spacingAndGlyphs" font-family="'Liberation Sans', Arial, sans-serif" font-size="10.0" font-weight="normal" fill="#4a4a4a" >Apr-20</text>
<text x="648.80" y="735.60" text-anchor="start" textLength="17.80" lengthAdjust="spacingAndGlyphs" font-family="'Liberation Sans', Arial, sans-serif" font-size="10.0" font-weight="normal" fill="#4a4a4a" >Jul-20</text>
<text x="687.30" y="735.60" text-anchor="start" textLength="17.80" lengthAdjust="spacingAndGlyphs" font-family="'Liberation Sans', Arial, sans-serif" font-size="10.0" font-weight="normal" fill="#4a4a4a" >Oct-20</text>
<rect x="573.40" y="842.00" width="158.80" height="1.40" fill="#666666" />
<rect x="577.15" y="762.70" width="5.70" height="79.90" fill="#d3d3d3" />
<rect x="590.45" y="755.40" width="5.70" height="45.60" fill="#d3d3d3" />
<rect x="603.85" y="763.30" width="5.70" height="78.70" fill="#d3d3d3" />
<rect x="616.85" y="763.70" width="5.70" height="78.90" fill="#d3d3d3" />
<rect x="630.15" y="765.70" width="5.70" height="73.30" fill="#d3d3d3" />
<rect x="643.35" y="758.00" width="5.70" height="81.50" fill="#d3d3d3" />
<rect x="656.55" y="762.60" width="5.70" height="79.90" fill="#d3d3d3" />
<rect x="669.65" y="756.30" width="5.70" height="85.90" fill="#d3d3d3" />
<rect x="682.95" y="763.80" width="5.70" height="77.10" fill="#d3d3d3" />
<rect x="696.15" y="759.80" width="5.70" height="82.40" fill="#d3d3d3" />
<rect x="709.55" y="762.60" width="5.70" height="79.60" fill="#d3d3d3" />
<rect x="722.75" y="762.20" width="5.70" height="76.40" fill="#d3d3d3" />
<ellipse cx="580" cy="762.7" rx="3.0" ry="4.4" fill="#f6c02e"/>
<ellipse cx="580" cy="806.8" rx="3.0" ry="4.4" fill="#a9527c"/>
<ellipse cx="580" cy="791" rx="3.0" ry="4.4" fill="#0b5e3f"/>
<ellipse cx="580" cy="842.6" rx="3.0" ry="4.4" fill="#f2660f"/>
<ellipse cx="593.3" cy="755.4" rx="3.0" ry="4.4" fill="#f6c02e"/>
<ellipse cx="593.3" cy="801" rx="3.0" ry="4.4" fill="#a9527c"/>
<ellipse cx="593.3" cy="793.5" rx="3.0" ry="4.4" fill="#0b5e3f"/>
<ellipse cx="606.7" cy="763.3" rx="3.0" ry="4.4" fill="#f6c02e"/>
<ellipse cx="606.7" cy="806.5" rx="3.0" ry="4.4" fill="#a9527c"/>
<ellipse cx="606.7" cy="790.1" rx="3.0" ry="4.4" fill="#0b5e3f"/>
<ellipse cx="606.7" cy="842" rx="3.0" ry="4.4" fill="#f2660f"/>
<ellipse cx="619.7" cy="763.7" rx="3.0" ry="4.4" fill="#f6c02e"/>
<ellipse cx="619.7" cy="808.6" rx="3.0" ry="4.4" fill="#a9527c"/>
<ellipse cx="619.7" cy="793.9" rx="3.0" ry="4.4" fill="#0b5e3f"/>
<ellipse cx="619.7" cy="842.6" rx="3.0" ry="4.4" fill="#f2660f"/>
<ellipse cx="633" cy="765.7" rx="3.0" ry="4.4" fill="#f6c02e"/>
<ellipse cx="633" cy="814.3" rx="3.0" ry="4.4" fill="#a9527c"/>
<ellipse cx="633" cy="791.3" rx="3.0" ry="4.4" fill="#0b5e3f"/>
<ellipse cx="633" cy="839" rx="3.0" ry="4.4" fill="#f2660f"/>
<ellipse cx="646.2" cy="758" rx="3.0" ry="4.4" fill="#f6c02e"/>
<ellipse cx="646.2" cy="808.9" rx="3.0" ry="4.4" fill="#a9527c"/>
<ellipse cx="646.2" cy="797.5" rx="3.0" ry="4.4" fill="#0b5e3f"/>
<ellipse cx="646.2" cy="839.5" rx="3.0" ry="4.4" fill="#f2660f"/>
<ellipse cx="659.4" cy="762.6" rx="3.0" ry="4.4" fill="#f6c02e"/>
<ellipse cx="659.4" cy="806.1" rx="3.0" ry="4.4" fill="#a9527c"/>
<ellipse cx="659.4" cy="791.5" rx="3.0" ry="4.4" fill="#0b5e3f"/>
<ellipse cx="659.4" cy="842.5" rx="3.0" ry="4.4" fill="#f2660f"/>
<ellipse cx="672.5" cy="756.3" rx="3.0" ry="4.4" fill="#f6c02e"/>
<ellipse cx="672.5" cy="808.6" rx="3.0" ry="4.4" fill="#a9527c"/>
<ellipse cx="672.5" cy="790.2" rx="3.0" ry="4.4" fill="#0b5e3f"/>
<ellipse cx="672.5" cy="842.2" rx="3.0" ry="4.4" fill="#f2660f"/>
<ellipse cx="685.8" cy="763.8" rx="3.0" ry="4.4" fill="#f6c02e"/>
<ellipse cx="685.8" cy="806.9" rx="3.0" ry="4.4" fill="#a9527c"/>
<ellipse cx="685.8" cy="787.8" rx="3.0" ry="4.4" fill="#0b5e3f"/>
<ellipse cx="685.8" cy="840.9" rx="3.0" ry="4.4" fill="#f2660f"/>
<ellipse cx="699" cy="759.8" rx="3.0" ry="4.4" fill="#f6c02e"/>
<ellipse cx="699" cy="810.4" rx="3.0" ry="4.4" fill="#a9527c"/>
<ellipse cx="699" cy="792.9" rx="3.0" ry="4.4" fill="#0b5e3f"/>
<ellipse cx="699" cy="842.2" rx="3.0" ry="4.4" fill="#f2660f"/>
<ellipse cx="712.4" cy="762.6" rx="3.0" ry="4.4" fill="#f6c02e"/>
<ellipse cx="712.4" cy="806.5" rx="3.0" ry="4.4" fill="#a9527c"/>
<ellipse cx="712.4" cy="788.2" rx="3.0" ry="4.4" fill="#0b5e3f"/>
<ellipse cx="712.4" cy="842.2" rx="3.0" ry="4.4" fill="#f2660f"/>
<ellipse cx="725.6" cy="762.2" rx="3.0" ry="4.4" fill="#f6c02e"/>
<ellipse cx="725.6" cy="807.2" rx="3.0" ry="4.4" fill="#a9527c"/>
<ellipse cx="725.6" cy="788.8" rx="3.0" ry="4.4" fill="#0b5e3f"/>
<ellipse cx="725.6" cy="838.6" rx="3.0" ry="4.4" fill="#f2660f"/>
<rect x="573.40" y="850.90" width="158.80" height="1.40" fill="#555555" />
<text x="559.00" y="756.30" text-anchor="start" textLength="11.10" lengthAdjust="spacingAndGlyphs" font-family="'Liberation Sans', Arial, sans-serif" font-size="10.5" font-weight="normal" fill="#444444" >6.00</text>
<text x="559.00" y="783.40" text-anchor="start" textLength="11.10" lengthAdjust="spacingAndGlyphs" font-family="'Liberation Sans', Arial, sans-serif" font-size="10.5" font-weight="normal" fill="#444444" >4.00</text>
<text x="559.00" y="814.40" text-anchor="start" textLength="11.10" lengthAdjust="spacingAndGlyphs" font-family="'Liberation Sans', Arial, sans-serif" font-size="10.5" font-weight="normal" fill="#444444" >2.00</text>
<text x="559.00" y="846.50" text-anchor="start" textLength="11.10" lengthAdjust="spacingAndGlyphs" font-family="'Liberation Sans', Arial, sans-serif" font-size="10.5" font-weight="normal" fill="#444444" >0.00</text>
<rect x="583.45" y="866.50" width="7.50" height="80.30" fill="#f4f4f4" />
<rect x="583.45" y="864.80" width="7.50" height="1.70" fill="#f08585" />
<rect x="595.85" y="897.60" width="7.50" height="49.20" fill="#f4f4f4" />
<rect x="595.85" y="864.40" width="7.50" height="33.20" fill="#f34b4b" />
<rect x="607.35" y="897.60" width="7.50" height="49.20" fill="#f4f4f4" />
<rect x="607.35" y="882.70" width="7.50" height="14.90" fill="#10a177" />
<rect x="619.65" y="906.60" width="7.50" height="40.20" fill="#f4f4f4" />
<rect x="619.65" y="882.50" width="7.50" height="24.10" fill="#f34b4b" />
<rect x="631.75" y="906.60" width="7.50" height="40.20" fill="#f4f4f4" />
<rect x="631.75" y="898.70" width="7.50" height="7.90" fill="#10a177" />
<rect x="644.25" y="898.60" width="7.50" height="48.20" fill="#f4f4f4" />
<rect x="644.25" y="895.50" width="7.50" height="3.10" fill="#10a177" />
<rect x="656.35" y="895.90" width="7.50" height="50.90" fill="#f4f4f4" />
<rect x="656.35" y="894.50" width="7.50" height="1.40" fill="#10a177" />
<rect x="668.65" y="894.50" width="7.50" height="52.30" fill="#f4f4f4" />
<rect x="668.65" y="873.40" width="7.50" height="21.10" fill="#10a177" />
<rect x="681.35" y="896.30" width="7.50" height="50.50" fill="#f4f4f4" />
<rect x="681.35" y="873.40" width="7.50" height="22.90" fill="#f34b4b" />
<rect x="693.25" y="896.30" width="7.50" height="50.50" fill="#f4f4f4" />
<rect x="693.25" y="878.60" width="7.50" height="17.70" fill="#10a177" />
<rect x="705.55" y="888.30" width="7.50" height="58.50" fill="#f4f4f4" />
<rect x="705.55" y="878.60" width="7.50" height="9.70" fill="#f34b4b" />
<rect x="717.75" y="898.60" width="7.50" height="48.20" fill="#f4f4f4" />
<rect x="717.75" y="888.30" width="7.50" height="10.30" fill="#f34b4b" />
<rect x="576.30" y="947.40" width="155.90" height="1.60" fill="#222222" />
<text x="558.40" y="873.30" text-anchor="start" textLength="14.70" lengthAdjust="spacingAndGlyphs" font-family="'Liberation Sans', Arial, sans-serif" font-size="10.5" font-weight="normal" fill="#3a3a3a" >$ 600</text>
<text x="558.40" y="899.30" text-anchor="start" textLength="14.70" lengthAdjust="spacingAndGlyphs" font-family="'Liberation Sans', Arial, sans-serif" font-size="10.5" font-weight="normal" fill="#3a3a3a" >$ 400</text>
<text x="558.40" y="925.60" text-anchor="start" textLength="14.70" lengthAdjust="spacingAndGlyphs" font-family="'Liberation Sans', Arial, sans-serif" font-size="10.5" font-weight="normal" fill="#3a3a3a" >$ 200</text>
<text x="565.20" y="944.80" text-anchor="start" textLength="7.90" lengthAdjust="spacingAndGlyphs" font-family="'Liberation Sans', Arial, sans-serif" font-size="10.5" font-weight="normal" fill="#3a3a3a" >$ 0</text>
<text x="578.00" y="964.50" text-anchor="start" textLength="17.80" lengthAdjust="spacingAndGlyphs" font-family="'Liberation Sans', Arial, sans-serif" font-size="10.0" font-weight="normal" fill="#4a4a4a" >Jan-20</text>
<text x="614.40" y="964.50" text-anchor="start" textLength="17.80" lengthAdjust="spacingAndGlyphs" font-family="'Liberation Sans', Arial, sans-serif" font-size="10.0" font-weight="normal" fill="#4a4a4a" >Apr-20</text>
<text x="650.90" y="964.50" text-anchor="start" textLength="17.80" lengthAdjust="spacingAndGlyphs" font-family="'Liberation Sans', Arial, sans-serif" font-size="10.0" font-weight="normal" fill="#4a4a4a" >Jul-20</text>
<text x="688.00" y="964.50" text-anchor="start" textLength="17.80" lengthAdjust="spacingAndGlyphs" font-family="'Liberation Sans', Arial, sans-serif" font-size="10.0" font-weight="normal" fill="#4a4a4a" >Oct-20</text>
<rect x="57.00" y="970.60" width="678.00" height="31.40" fill="#ecebe8" />
<text x="346.90" y="989.50" text-anchor="start" textLength="26.10" lengthAdjust="spacingAndGlyphs" font-family="'DejaVu Sans Mono', 'Liberation Mono', monospace" font-size="9.6" font-weight="bold" fill="#111" >contact:</text>
<rect x="346.90" y="990.80" width="26.10" height="0.90" fill="#111" />
<text x="376.70" y="989.50" text-anchor="start" textLength="66.10" lengthAdjust="spacingAndGlyphs" font-family="'DejaVu Sans Mono', 'Liberation Mono', monospace" font-size="9.6" font-weight="normal" fill="#2f62e8" >ashish@scatterpie.io</text>
<rect x="56" y="268" width="680" height="735" fill="none" stroke="#0f1d2e" stroke-width="2"/>
<rect x="63.90" y="324.00" width="12.00" height="3.00" fill="#e8080f" />
<rect x="84.85" y="324.00" width="12.00" height="3.00" fill="#e8080f" />
<rect x="105.80" y="324.00" width="12.00" height="3.00" fill="#e8080f" />
<rect x="126.75" y="324.00" width="12.00" height="3.00" fill="#e8080f" />
<rect x="147.70" y="324.00" width="12.00" height="3.00" fill="#e8080f" />
<rect x="168.65" y="324.00" width="12.00" height="3.00" fill="#e8080f" />
<rect x="189.60" y="324.00" width="12.00" height="3.00" fill="#e8080f" />
<rect x="210.55" y="324.00" width="12.00" height="3.00" fill="#e8080f" />
<rect x="231.50" y="324.00" width="12.00" height="3.00" fill="#e8080f" />
<rect x="252.45" y="324.00" width="12.00" height="3.00" fill="#e8080f" />
<rect x="273.40" y="324.00" width="12.00" height="3.00" fill="#e8080f" />
<rect x="294.35" y="324.00" width="12.00" height="3.00" fill="#e8080f" />
<rect x="62.60" y="381.00" width="12.00" height="3.00" fill="#e8080f" />
<rect x="83.55" y="381.00" width="12.00" height="3.00" fill="#e8080f" />
<rect x="104.50" y="381.00" width="12.00" height="3.00" fill="#e8080f" />
<rect x="125.45" y="381.00" width="12.00" height="3.00" fill="#e8080f" />
<rect x="146.40" y="381.00" width="12.00" height="3.00" fill="#e8080f" />
<rect x="167.35" y="381.00" width="12.00" height="3.00" fill="#e8080f" />
<rect x="188.30" y="381.00" width="12.00" height="3.00" fill="#e8080f" />
<rect x="209.25" y="381.00" width="12.00" height="3.00" fill="#e8080f" />
<rect x="230.20" y="381.00" width="12.00" height="3.00" fill="#e8080f" />
<rect x="251.15" y="381.00" width="12.00" height="3.00" fill="#e8080f" />
<rect x="272.10" y="381.00" width="12.00" height="3.00" fill="#e8080f" />
<rect x="293.05" y="381.00" width="12.00" height="3.00" fill="#e8080f" />
<rect x="56.00" y="328.80" width="3.00" height="12.00" fill="#e8080f" />
<rect x="56.00" y="349.90" width="3.00" height="12.00" fill="#e8080f" />
<rect x="56.00" y="371.00" width="3.00" height="11.00" fill="#e8080f" />
<rect x="312.00" y="327.90" width="3.00" height="12.00" fill="#e8080f" />
<rect x="312.00" y="349.00" width="3.00" height="12.00" fill="#e8080f" />
<rect x="312.00" y="370.10" width="3.00" height="11.90" fill="#e8080f" />
<rect x="234.00" y="400.00" width="7.10" height="3.00" fill="#e8080f" />
<rect x="250.10" y="400.00" width="12.00" height="3.00" fill="#e8080f" />
<rect x="271.10" y="400.00" width="12.00" height="3.00" fill="#e8080f" />
<rect x="292.10" y="400.00" width="12.00" height="3.00" fill="#e8080f" />
<rect x="313.10" y="400.00" width="12.00" height="3.00" fill="#e8080f" />
<rect x="234.00" y="617.00" width="12.00" height="3.00" fill="#e8080f" />
<rect x="255.00" y="617.00" width="12.00" height="3.00" fill="#e8080f" />
<rect x="276.00" y="617.00" width="12.00" height="3.00" fill="#e8080f" />
<rect x="297.00" y="617.00" width="12.00" height="3.00" fill="#e8080f" />
<rect x="318.00" y="617.00" width="12.00" height="3.00" fill="#e8080f" />
<rect x="234.00" y="400.00" width="3.00" height="8.40" fill="#e8080f" />
<rect x="234.00" y="417.40" width="3.00" height="12.00" fill="#e8080f" />
<rect x="234.00" y="438.40" width="3.00" height="12.00" fill="#e8080f" />
<rect x="234.00" y="459.40" width="3.00" height="12.00" fill="#e8080f" />
<rect x="234.00" y="480.40" width="3.00" height="12.00" fill="#e8080f" />
<rect x="234.00" y="501.40" width="3.00" height="12.00" fill="#e8080f" />
<rect x="234.00" y="522.40" width="3.00" height="12.00" fill="#e8080f" />
<rect x="234.00" y="543.40" width="3.00" height="12.00" fill="#e8080f" />
<rect x="234.00" y="564.40" width="3.00" height="12.00" fill="#e8080f" />
<rect x="234.00" y="585.40" width="3.00" height="12.00" fill="#e8080f" />
<rect x="234.00" y="606.40" width="3.00" height="12.00" fill="#e8080f" />
<rect x="327.00" y="406.30" width="3.00" height="12.00" fill="#e8080f" />
<rect x="327.00" y="427.30" width="3.00" height="12.00" fill="#e8080f" />
<rect x="327.00" y="448.30" width="3.00" height="12.00" fill="#e8080f" />
<rect x="327.00" y="469.30" width="3.00" height="12.00" fill="#e8080f" />
<rect x="327.00" y="490.30" width="3.00" height="12.00" fill="#e8080f" />
<rect x="327.00" y="511.30" width="3.00" height="12.00" fill="#e8080f" />
<rect x="327.00" y="532.30" width="3.00" height="12.00" fill="#e8080f" />
<rect x="327.00" y="553.30" width="3.00" height="12.00" fill="#e8080f" />
<rect x="327.00" y="574.30" width="3.00" height="12.00" fill="#e8080f" />
<rect x="327.00" y="595.30" width="3.00" height="12.00" fill="#e8080f" />
<rect x="327.00" y="616.30" width="3.00" height="3.70" fill="#e8080f" />
<line x1="173.27" y1="166.25" x2="192.80" y2="333.50" stroke="#e2101a" stroke-width="1.1" stroke-dasharray="4 3"/>
<polygon points="172.40,158.80 169.69,166.67 176.85,165.83" fill="#e2101a"/>
<line x1="554.98" y1="124.75" x2="306.90" y2="420.90" stroke="#e2101a" stroke-width="1.1" stroke-dasharray="4 3"/>
<polygon points="559.80,119.00 552.22,122.44 557.74,127.06" fill="#e2101a"/>
</svg></body></html>
